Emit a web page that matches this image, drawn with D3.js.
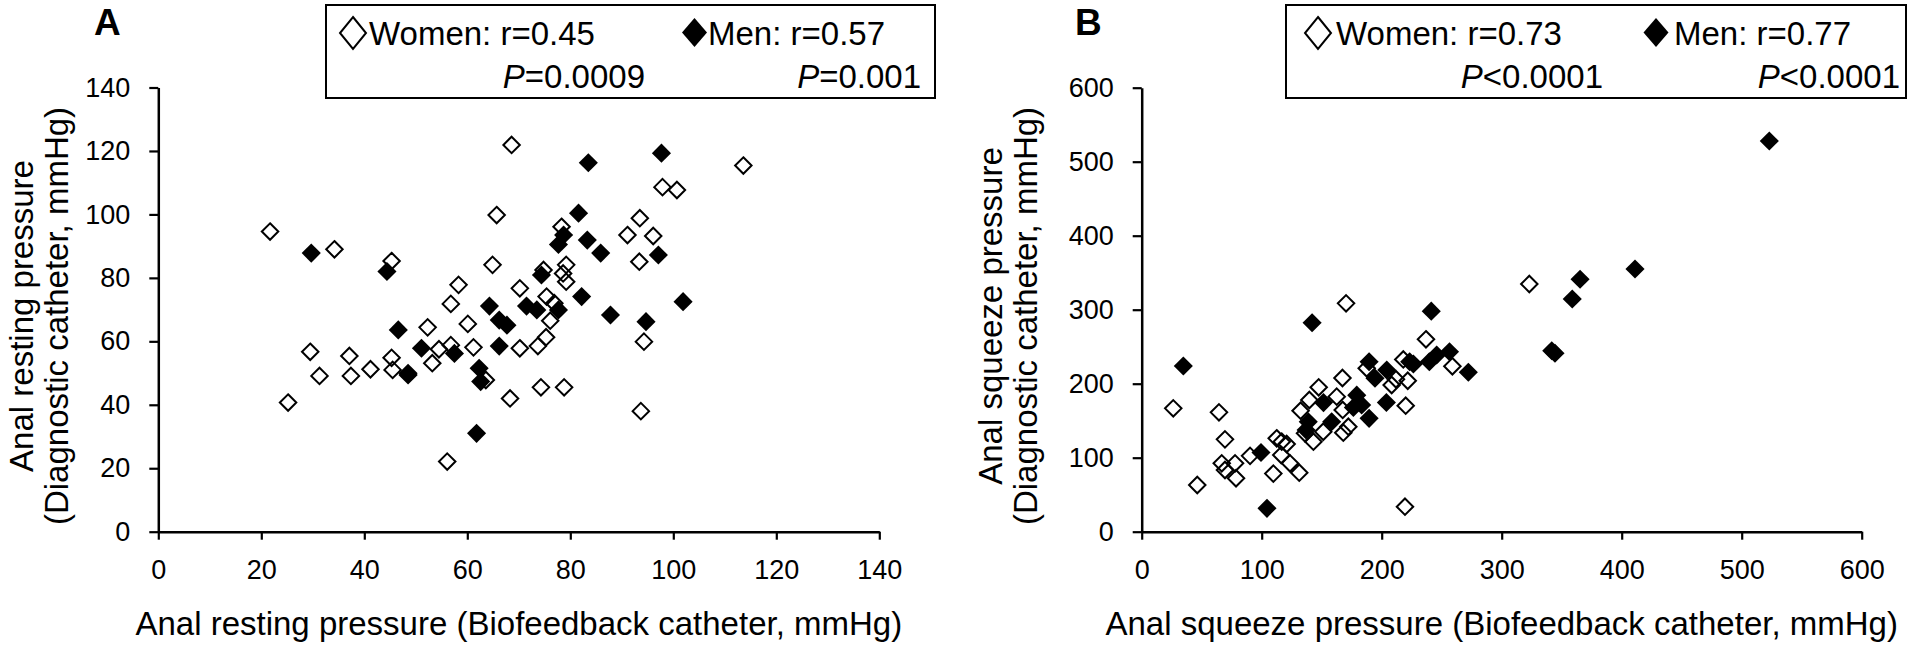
<!DOCTYPE html>
<html>
<head>
<meta charset="utf-8">
<script src="https://cdn.jsdelivr.net/npm/d3@7"></script>
<style>
  html, body { margin: 0; padding: 0; background: #fff; }
  svg { display: block; }
  text { font-family: "Liberation Sans", Arial, sans-serif; fill: #000; }
</style>
</head>
<body>
<svg id="chart" width="1920" height="645"></svg>
<script>
// ---------- DATA ----------
// Panel A: anal resting pressure [biofeedback, diagnostic]
const restWomen = [
  [21.7,94.6],[34.2,89.0],[45.3,85.3],[58.3,77.8],[56.8,71.8],[60.1,65.5],[52.3,64.4],
  [29.5,56.7],[37.1,55.4],[45.3,54.8],[54.5,57.5],[56.8,58.8],[61.2,58.1],[53.2,53.1],
  [45.5,51.0],[31.3,49.1],[37.4,49.1],[41.2,51.2],[48.5,49.4],[25.2,40.7],[56.1,22.1],
  [68.6,121.9],[113.6,115.4],[97.9,108.6],[100.7,107.7],[65.7,99.8],[93.5,98.8],[91.1,93.5],
  [96.1,93.2],[93.4,85.1],[64.9,84.1],[78.3,96.1],[79.2,84.1],[78.6,81.4],[79.2,78.8],
  [70.2,76.7],[75.4,74.1],[76.9,72.0],[76.1,66.5],[70.2,57.8],[73.7,58.5],[75.3,61.3],
  [63.6,47.8],[68.3,42.0],[74.3,45.5],[78.8,45.5],[94.3,59.9],[93.7,38.0],[74.8,82.5]
];
const restMen = [
  [29.7,87.8],[44.4,82.0],[46.6,63.6],[51.1,57.8],[57.5,56.2],[48.5,49.9],[61.8,31.0],
  [83.5,116.3],[97.7,119.3],[81.6,100.4],[78.7,93.5],[77.7,90.5],[83.3,91.9],[85.9,87.8],
  [97.1,87.2],[74.4,80.9],[64.3,71.1],[66.2,66.7],[67.7,65.1],[71.5,71.1],[73.5,69.9],
  [77.7,69.9],[82.2,74.1],[87.8,68.3],[94.7,66.2],[101.9,72.5],[66.2,58.5],[62.3,51.5],
  [62.6,47.3]
];
// Panel B: anal squeeze pressure [biofeedback, diagnostic]
const squeezeWomen = [
  [26.3,166.7],[64.4,161.3],[69.4,124.8],[46.3,63.1],[66.7,92.4],[69.4,83.4],[77.8,92.4],
  [78.6,72.2],[90.3,102.5],[109.7,78.5],[112.5,126.2],[116.7,121.6],[120.8,118.5],[116.3,103.6],
  [123.6,92.4],[131.3,79.7],[132.4,163.5],[139.7,178.0],[147.5,195.1],[136.1,133.0],[143.1,121.6],
  [151.3,135.1],[162.5,182.5],[167.3,207.7],[168.0,133.8],[172.2,141.9],[170.3,308.6],[167.5,164.5],
  [187.5,220.8],[208.3,198.2],[211.9,206.0],[218.0,232.8],[220.0,170.3],[221.7,204.0],[219.4,33.8],
  [236.9,260.0],[258.9,223.5],[323.0,334.7]
];
const squeezeMen = [
  [34.7,223.9],[99.4,107.0],[104.4,31.6],[142.0,282.4],[138.8,148.6],[137.0,137.5],[151.5,174.5],
  [158.3,148.6],[179.2,184.5],[183.3,171.2],[176.4,167.8],[189.5,153.2],[189.5,229.7],[194.4,207.5],
  [204.2,218.5],[203.9,174.6],[223.3,229.7],[226.4,226.6],[239.7,229.7],[241.3,298.0],[245.8,238.8],
  [256.5,243.2],[272.2,215.4],[341.7,244.6],[344.4,241.1],[358.8,314.5],[365.3,341.1],[411.1,355.0],
  [523.0,528.0]
];
const restTicks = [0,20,40,60,80,100,120,140];
const squeezeTicks = [0,100,200,300,400,500,600];

const panels = [
  {
    letter: "A", women: restWomen, men: restMen, ticks: restTicks, max: 140,
    xr: [158.3, 879.3], yr: [531.7, 87.5],
    xTitle: "Anal resting pressure (Biofeedback catheter, mmHg)",
    yTitle1: "Anal resting pressure", yTitle2: "(Diagnostic catheter, mmHg)",
    yt1: 33, yt2: 68, letterX: 94,
    leg: {x0: 326, x1: 935, dW: 353, tW: 369, dM: 694.5, tM: 708, p1: 645, p2: 921,
          women: "Women: r=0.45", men: "Men: r=0.57", pw: "=0.0009", pm: "=0.001"}
  },
  {
    letter: "B", women: squeezeWomen, men: squeezeMen, ticks: squeezeTicks, max: 600,
    xr: [1141.7, 1861.7], yr: [531.7, 87.7],
    xTitle: "Anal squeeze pressure (Biofeedback catheter, mmHg)",
    yTitle1: "Anal squeeze pressure", yTitle2: "(Diagnostic catheter, mmHg)",
    yt1: 1002, yt2: 1037, letterX: 1075,
    leg: {x0: 1286, x1: 1906, dW: 1318, tW: 1336, dM: 1656, tM: 1674, p1: 1603, p2: 1900,
          women: "Women: r=0.73", men: "Men: r=0.77", pw: "<0.0001", pm: "<0.0001"}
  }
];

const svg = d3.select("#chart");
const openSym = d3.symbol().type(d3.symbolDiamond2).size(2 * 9.3 * 9.3);
const fillSym = d3.symbol().type(d3.symbolDiamond2).size(2 * 10.8 * 10.8);

panels.forEach(p => {
  const x = d3.scaleLinear().domain([0, p.max]).range(p.xr);
  const y = d3.scaleLinear().domain([0, p.max]).range(p.yr);
  const g = svg.append("g");

  // axes
  const xAxis = d3.axisBottom(x).tickValues(p.ticks).tickSize(8).tickSizeOuter(0).tickPadding(20);
  const yAxis = d3.axisLeft(y).tickValues(p.ticks).tickSize(9).tickSizeOuter(0).tickPadding(19);
  const gx = g.append("g").attr("transform", `translate(0,${p.yr[0]})`).call(xAxis);
  const gy = g.append("g").attr("transform", `translate(${p.xr[0]},0)`).call(yAxis);
  [gx, gy].forEach(a => {
    a.select(".domain").attr("stroke", "#000").attr("stroke-width", 2.5);
    a.selectAll(".tick line").attr("stroke", "#000").attr("stroke-width", 2.2);
    a.selectAll(".tick text").attr("font-size", 27).attr("font-family", "'Liberation Sans', Arial, sans-serif").attr("fill", "#000");
  });

  // points: open (women) then filled (men)
  g.append("g").selectAll("path").data(p.women).join("path")
    .attr("d", openSym)
    .attr("transform", d => `translate(${x(d[0])},${y(d[1])})`)
    .attr("fill", "none").attr("stroke", "#000").attr("stroke-width", 2);
  g.append("g").selectAll("path").data(p.men).join("path")
    .attr("d", fillSym)
    .attr("transform", d => `translate(${x(d[0])},${y(d[1])})`)
    .attr("fill", "#000");

  // axis titles
  g.append("text").attr("x", (p.xr[0] + p.xr[1]) / 2).attr("y", 635)
    .attr("text-anchor", "middle").attr("font-size", 33).text(p.xTitle);
  g.append("text").attr("transform", `translate(${p.yt1},316) rotate(-90)`)
    .attr("text-anchor", "middle").attr("font-size", 33).text(p.yTitle1);
  g.append("text").attr("transform", `translate(${p.yt2},316) rotate(-90)`)
    .attr("text-anchor", "middle").attr("font-size", 33).text(p.yTitle2);

  // panel letter
  g.append("text").attr("x", p.letterX).attr("y", 35)
    .attr("font-size", 37).attr("font-weight", "bold").text(p.letter);

  // legend box
  const L = p.leg;
  g.append("rect").attr("x", L.x0).attr("y", 5).attr("width", L.x1 - L.x0).attr("height", 93)
    .attr("fill", "#fff").attr("stroke", "#000").attr("stroke-width", 2);
  g.append("path")
    .attr("d", `M${L.dW},${17}L${L.dW + 13},${33}L${L.dW},${49}L${L.dW - 13},${33}Z`)
    .attr("fill", "none").attr("stroke", "#000").attr("stroke-width", 2);
  g.append("path")
    .attr("d", `M${L.dM},${18}L${L.dM + 12.5},${32.5}L${L.dM},${47}L${L.dM - 12.5},${32.5}Z`)
    .attr("fill", "#000");
  g.append("text").attr("x", L.tW).attr("y", 45).attr("font-size", 33).text(L.women);
  g.append("text").attr("x", L.tM).attr("y", 45).attr("font-size", 33).text(L.men);
  [[L.p1, L.pw], [L.p2, L.pm]].forEach(([xe, s]) => {
    const t = g.append("text").attr("x", xe).attr("y", 88).attr("font-size", 33).attr("text-anchor", "end");
    t.append("tspan").attr("font-style", "italic").text("P");
    t.append("tspan").text(s);
  });
});
</script>
</body>
</html>
